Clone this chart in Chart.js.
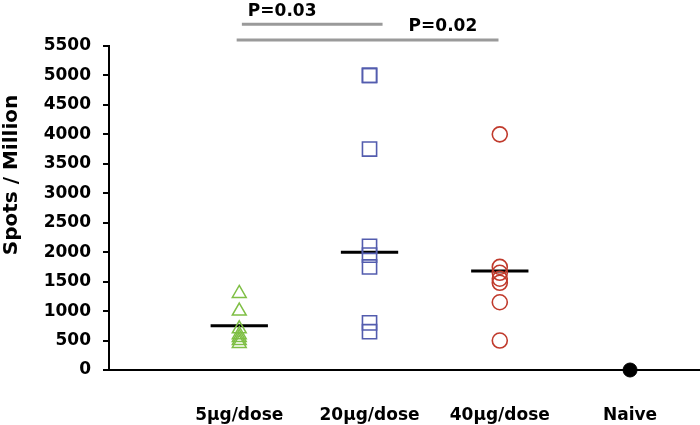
<!DOCTYPE html>
<html>
<head>
<meta charset="utf-8">
<script src="https://cdn.jsdelivr.net/npm/chart.js@4"></script>
<style>
  html, body { margin: 0; background: #fff; overflow: hidden; }
  canvas { display: block; }
</style>
</head>
<body>
<!-- a bit wider than the window: Chart.js keeps a small gap on the right of the x axis -->
<canvas id="myChart" width="712" height="425"></canvas>
<script>
// Chart data
const groups = ['5µg/dose', '20µg/dose', '40µg/dose', 'Naive'];
const dose5 = [1300, 1000, 700, 600, 550, 500, 450];
const dose20 = [5000, 5000, 3750, 2100, 1950, 1750, 800, 650];
const dose40 = [4000, 1750, 1650, 1550, 1480, 1150, 500];
const naive = [0];
const meanValues = [750, 2000, 1680];
const yTicks = [0, 500, 1000, 1500, 2000, 2500, 3000, 3500, 4000, 4500, 5000, 5500];

// significance bars: label, start group, end group, level
const pLabels = ['P=0.03', 'P=0.02'];
const pFrom = [1.02, 0.98];
const pTo = [2.1, 2.99];
const pLevel = [5870, 5600];

const FONT = 'DejaVu Sans';

function toPoints(values, groupIndex) {
    return values.map(v => ({ x: groupIndex + 1, y: v }));
}

function meanLine(value, groupIndex) {
    return [{ x: groupIndex + 1 - 0.22, y: value }, { x: groupIndex + 1 + 0.22, y: value }];
}

const datasets = [
    {
        type: 'scatter', data: toPoints(dose5, 0), pointStyle: 'triangle', pointRadius: 8,
        borderColor: '#7fbf45', backgroundColor: 'rgba(0,0,0,0)', borderWidth: 1.5, clip: false
    },
    {
        type: 'scatter', data: toPoints(dose20, 1), pointStyle: 'rect', pointRadius: 10,
        borderColor: '#535cae', backgroundColor: 'rgba(0,0,0,0)', borderWidth: 1.6, clip: false
    },
    {
        type: 'scatter', data: toPoints(dose40, 2), pointStyle: 'circle', pointRadius: 7.5,
        borderColor: '#c03a2c', backgroundColor: 'rgba(0,0,0,0)', borderWidth: 1.6, clip: false
    },
    {
        type: 'scatter', data: toPoints(naive, 3), pointStyle: 'circle', pointRadius: 7,
        borderColor: '#000', backgroundColor: '#000', borderWidth: 1, clip: false
    }
];

meanValues.forEach((v, i) => {
    datasets.push({
        type: 'line', data: meanLine(v, i), borderColor: '#000', borderWidth: 3,
        pointRadius: 0, clip: false
    });
});

pLabels.forEach((lbl, i) => {
    datasets.push({
        type: 'line', data: [{ x: pFrom[i], y: pLevel[i] }, { x: pTo[i], y: pLevel[i] }],
        borderColor: '#9a9a9a', borderWidth: 3, pointRadius: 0, clip: false
    });
});

// text that sits outside the axes
const extraText = {
    id: 'extraText',
    afterDraw(chart) {
        const ctx = chart.ctx;
        const xs = chart.scales.x;
        const ys = chart.scales.y;
        ctx.save();
        ctx.fillStyle = '#000';
        ctx.font = 'bold 17px ' + FONT;
        ctx.textAlign = 'left';
        ctx.textBaseline = 'bottom';
        ctx.fillText(pLabels[0], xs.getPixelForValue(pFrom[0]) + 6, ys.getPixelForValue(pLevel[0]) - 4);
        ctx.fillText(pLabels[1], xs.getPixelForValue(2.3), ys.getPixelForValue(pLevel[1]) - 5);

        // y axis title
        ctx.translate(12, 175);
        ctx.rotate(-Math.PI / 2);
        ctx.font = 'bold 20px ' + FONT;
        ctx.textAlign = 'center';
        ctx.textBaseline = 'middle';
        ctx.fillText('Spots / Million', 0, 0);
        ctx.restore();
    }
};

const ctx = document.getElementById('myChart').getContext('2d');
const myChart = new Chart(ctx, {
    type: 'scatter',
    data: { datasets: datasets },
    options: {
        responsive: false,
        animation: false,
        layout: { padding: { top: 46, right: 0, bottom: 0, left: 0 } },
        plugins: {
            legend: { display: false },
            tooltip: { enabled: false }
        },
        scales: {
            x: {
                type: 'linear',
                min: 0,
                max: 4.54,
                afterBuildTicks: (scale) => {
                    scale.ticks = groups.map((g, i) => ({ value: i + 1 }));
                },
                afterFit: (scale) => { scale.height = 55; },
                grid: { display: false },
                border: { display: true, color: '#000', width: 2 },
                ticks: {
                    autoSkip: false,
                    maxRotation: 0,
                    padding: 27,
                    color: '#000',
                    font: { family: FONT, size: 17, weight: 'bold' },
                    callback: (value) => groups[Math.round(value) - 1]
                }
            },
            y: {
                min: 0,
                max: 5500,
                afterBuildTicks: (scale) => {
                    scale.ticks = yTicks.map(v => ({ value: v }));
                },
                afterFit: (scale) => { scale.width = 109; },
                grid: {
                    drawOnChartArea: false,
                    drawTicks: true,
                    tickLength: 6,
                    color: '#000',
                    lineWidth: 2
                },
                border: { display: true, color: '#000', width: 2 },
                ticks: {
                    padding: 12,
                    color: '#000',
                    font: { family: FONT, size: 17, weight: 'bold' },
                    callback: (value) => String(value)
                }
            }
        }
    },
    plugins: [extraText]
});
</script>
</body>
</html>
